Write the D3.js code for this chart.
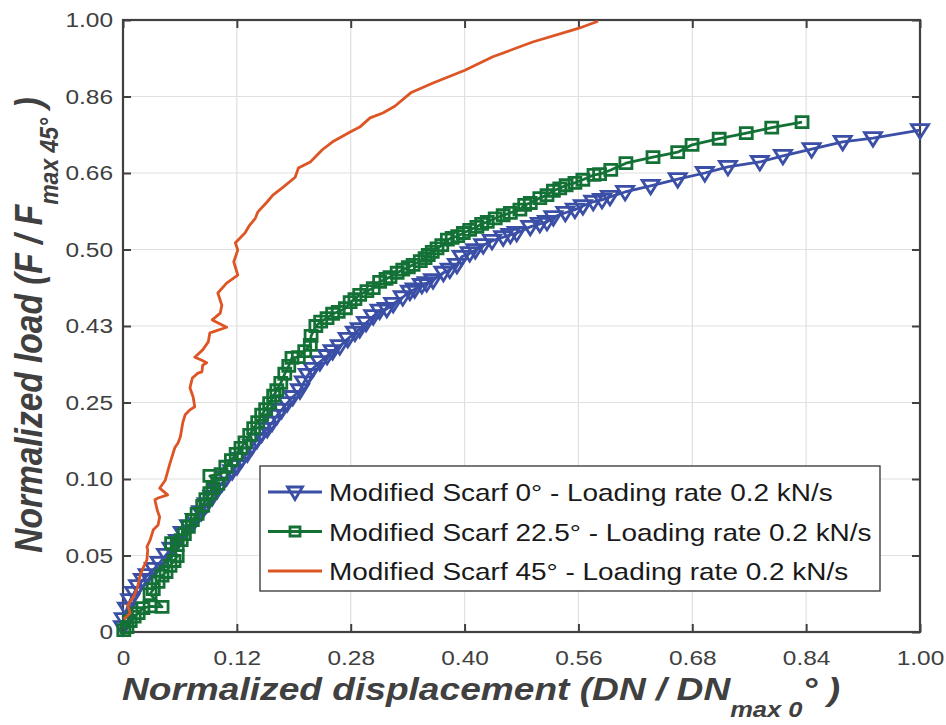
<!DOCTYPE html>
<html><head><meta charset="utf-8">
<script src="https://cdn.jsdelivr.net/npm/d3@7"></script>
<style>
body{margin:0;background:#fff;}
text{font-family:"Liberation Sans",Arial,Helvetica,sans-serif;}
</style></head>
<body>
<svg id="chart" width="946" height="725"></svg>
<script>
// ---- data (normalized linear axis units 0..1) ----
const xTickLabels = ["0","0.12","0.28","0.40","0.56","0.68","0.84","1.00"];
const yTickLabels = ["0","0.05","0.10","0.25","0.43","0.50","0.66","0.86","1.00"];
const seriesNames = [
  "Modified Scarf 0\u00B0 - Loading rate 0.2 kN/s",
  "Modified Scarf 22.5\u00B0 - Loading rate 0.2 kN/s",
  "Modified Scarf 45\u00B0 - Loading rate 0.2 kN/s"
];
const scarf0 = [
[0.000,0.008],[0.001,0.021],[0.005,0.038],[0.009,0.052],[0.014,0.064],[0.019,0.075],[0.025,0.085],[0.031,0.093],
[0.039,0.103],[0.046,0.113],[0.054,0.126],[0.061,0.136],[0.069,0.149],[0.075,0.162],[0.083,0.173],[0.090,0.183],
[0.098,0.196],[0.105,0.209],[0.112,0.221],[0.118,0.232],[0.124,0.243],[0.130,0.253],[0.137,0.263],[0.143,0.271],
[0.149,0.283],[0.156,0.292],[0.162,0.304],[0.168,0.314],[0.174,0.324],[0.181,0.332],[0.187,0.342],[0.193,0.353],
[0.199,0.363],[0.206,0.374],[0.213,0.384],[0.222,0.395],[0.227,0.408],[0.232,0.420],[0.238,0.430],[0.247,0.441],
[0.256,0.451],[0.263,0.459],[0.272,0.467],[0.282,0.479],[0.291,0.489],[0.297,0.495],[0.305,0.505],[0.314,0.516],
[0.322,0.525],[0.331,0.528],[0.339,0.536],[0.351,0.547],[0.360,0.556],[0.366,0.560],[0.375,0.567],[0.381,0.570],
[0.389,0.575],[0.402,0.587],[0.410,0.592],[0.419,0.600],[0.425,0.613],[0.435,0.619],[0.442,0.624],[0.452,0.632],
[0.463,0.639],[0.477,0.645],[0.486,0.649],[0.494,0.652],[0.511,0.662],[0.523,0.667],[0.532,0.670],[0.540,0.678],
[0.555,0.685],[0.567,0.690],[0.577,0.696],[0.590,0.703],[0.601,0.706],[0.611,0.711],[0.630,0.719],[0.662,0.729],
[0.696,0.740],[0.730,0.750],[0.759,0.760],[0.799,0.768],[0.828,0.778],[0.864,0.789],[0.903,0.801],[0.941,0.807],
[1.000,0.820]
];
const scarf22 = [
[0.001,0.003],[0.005,0.008],[0.009,0.018],[0.014,0.025],[0.019,0.031],[0.025,0.039],[0.034,0.042],[0.049,0.041],
[0.034,0.062],[0.038,0.070],[0.044,0.082],[0.049,0.092],[0.054,0.098],[0.059,0.108],[0.064,0.116],[0.068,0.124],
[0.061,0.145],[0.068,0.142],[0.073,0.150],[0.077,0.160],[0.082,0.172],[0.087,0.183],[0.093,0.193],[0.100,0.206],
[0.104,0.217],[0.109,0.227],[0.113,0.235],[0.119,0.242],[0.109,0.255],[0.123,0.258],[0.129,0.270],[0.136,0.281],
[0.142,0.291],[0.148,0.301],[0.153,0.310],[0.159,0.322],[0.164,0.333],[0.169,0.343],[0.174,0.355],[0.179,0.364],
[0.184,0.374],[0.189,0.386],[0.193,0.395],[0.198,0.407],[0.203,0.422],[0.208,0.435],[0.212,0.448],[0.220,0.449],
[0.228,0.459],[0.235,0.469],[0.236,0.484],[0.242,0.500],[0.248,0.507],[0.256,0.513],[0.263,0.520],[0.270,0.523],
[0.279,0.529],[0.285,0.539],[0.291,0.544],[0.297,0.551],[0.306,0.557],[0.314,0.562],[0.322,0.572],[0.330,0.577],
[0.335,0.580],[0.344,0.587],[0.351,0.592],[0.358,0.596],[0.364,0.600],[0.373,0.606],[0.379,0.611],[0.383,0.616],
[0.388,0.621],[0.394,0.627],[0.400,0.632],[0.407,0.641],[0.413,0.644],[0.420,0.647],[0.427,0.652],[0.435,0.657],
[0.444,0.662],[0.450,0.667],[0.457,0.670],[0.467,0.676],[0.477,0.681],[0.486,0.685],[0.498,0.690],[0.504,0.698],
[0.511,0.701],[0.523,0.709],[0.532,0.714],[0.540,0.721],[0.548,0.725],[0.556,0.730],[0.567,0.734],[0.577,0.739],
[0.591,0.747],[0.598,0.748],[0.612,0.755],[0.631,0.766],[0.665,0.776],[0.696,0.784],[0.714,0.796],[0.748,0.806],
[0.782,0.815],[0.814,0.824],[0.852,0.833]
];
const scarf45 = [
[0.001,0.021],[0.009,0.031],[0.006,0.044],[0.013,0.057],[0.018,0.072],[0.021,0.090],[0.024,0.101],[0.030,0.118],
[0.031,0.134],[0.030,0.139],[0.034,0.150],[0.038,0.167],[0.044,0.175],[0.046,0.188],[0.043,0.199],[0.040,0.216],
[0.044,0.219],[0.056,0.224],[0.046,0.235],[0.053,0.248],[0.059,0.276],[0.065,0.301],[0.069,0.309],[0.072,0.319],
[0.075,0.342],[0.078,0.355],[0.084,0.363],[0.090,0.368],[0.088,0.384],[0.084,0.399],[0.087,0.415],[0.094,0.423],
[0.099,0.425],[0.100,0.436],[0.105,0.440],[0.099,0.444],[0.090,0.449],[0.100,0.461],[0.107,0.474],[0.109,0.489],
[0.112,0.490],[0.130,0.498],[0.112,0.510],[0.122,0.521],[0.124,0.534],[0.119,0.554],[0.130,0.570],[0.144,0.583],
[0.139,0.605],[0.144,0.624],[0.141,0.636],[0.153,0.652],[0.159,0.665],[0.166,0.676],[0.169,0.686],[0.181,0.703],
[0.188,0.714],[0.201,0.727],[0.216,0.743],[0.220,0.758],[0.235,0.768],[0.250,0.788],[0.263,0.801],[0.285,0.817],
[0.297,0.825],[0.310,0.840],[0.326,0.848],[0.341,0.859],[0.361,0.881],[0.389,0.897],[0.429,0.918],[0.464,0.940],
[0.514,0.964],[0.565,0.984],[0.573,0.987],[0.596,0.998]
];
const colors = ["#3a4fa5","#137136","#dd5524"];

// ---- layout ----
const W=946,H=725;
const L=123,R=920,T=20,B=632;
const SX=1.165; // horizontal text stretch seen in the reference
const svg=d3.select("#chart");
svg.append("rect").attr("width",W).attr("height",H).attr("fill","#fff");
const x=d3.scaleLinear().domain([0,1]).range([L,R]);
const y=d3.scaleLinear().domain([0,1]).range([B,T]);
const xt=d3.range(xTickLabels.length).map(i=>i/(xTickLabels.length-1));
const yt=d3.range(yTickLabels.length).map(i=>i/(yTickLabels.length-1));
const axisCol="#404040";

// grid
const g=svg.append("g");
g.selectAll(".gx").data(xt.slice(1,-1)).join("line")
 .attr("x1",d=>x(d)).attr("x2",d=>x(d)).attr("y1",T).attr("y2",B)
 .attr("stroke","#e0e0e0").attr("stroke-width",1.2);
g.selectAll(".gy").data(yt.slice(1,-1)).join("line")
 .attr("y1",d=>y(d)).attr("y2",d=>y(d)).attr("x1",L).attr("x2",R)
 .attr("stroke","#e0e0e0").attr("stroke-width",1.2);

// axes
function styleAxis(sel){
  sel.select(".domain").remove();
  sel.selectAll(".tick line").attr("stroke",axisCol).attr("stroke-width",2);
  sel.selectAll(".tick text").attr("fill",axisCol).style("font-size","21px")
     .style("font-family","'Liberation Sans',Arial,sans-serif");
}
const fx=(d)=>xTickLabels[xt.indexOf(d)];
const fy=(d)=>yTickLabels[yt.indexOf(d)];
svg.append("g").attr("transform",`translate(0,${B})`)
 .call(d3.axisBottom(x).tickValues(xt).tickFormat(fx).tickSizeInner(-8).tickSizeOuter(0).tickPadding(18))
 .call(styleAxis)
 .call(s=>s.selectAll(".tick text").attr("transform",`scale(${SX},1)`));
svg.append("g").attr("transform",`translate(0,${T})`)
 .call(d3.axisTop(x).tickValues(xt).tickFormat("").tickSizeInner(-8).tickSizeOuter(0))
 .call(styleAxis);
svg.append("g").attr("transform",`translate(${L},0)`)
 .call(d3.axisLeft(y).tickValues(yt).tickFormat(fy).tickSizeInner(-8).tickSizeOuter(0).tickPadding(10))
 .call(styleAxis)
 .call(s=>s.selectAll(".tick text").attr("x",-10/SX).attr("transform",`scale(${SX},1)`));
svg.append("g").attr("transform",`translate(${R},0)`)
 .call(d3.axisRight(y).tickValues(yt).tickFormat("").tickSizeInner(-8).tickSizeOuter(0))
 .call(styleAxis);
svg.append("rect").attr("x",L).attr("y",T).attr("width",R-L).attr("height",B-T)
 .attr("fill","none").attr("stroke",axisCol).attr("stroke-width",2.2);

// series
const line=d3.line().x(d=>x(d[0])).y(d=>y(d[1]));
const triPath="M-8.5,-5.5L8.5,-5.5L0,8Z";
const sqPath="M-6,-5.5L6,-5.5L6,5.5L-6,5.5Z";
const plot=svg.append("g");
function drawSeries(data,col,marker){
  plot.append("path").datum(data).attr("d",line).attr("fill","none")
   .attr("stroke",col).attr("stroke-width",2.8).attr("stroke-linejoin","round");
  if(marker){
    plot.append("g").selectAll("path").data(data).join("path")
     .attr("d",marker).attr("transform",d=>`translate(${x(d[0])},${y(d[1])})`)
     .attr("fill","none").attr("stroke",col).attr("stroke-width",2.8);
  }
}
drawSeries(scarf0,colors[0],triPath);
drawSeries(scarf22,colors[1],sqPath);
drawSeries(scarf45,colors[2],null);

// legend
const lg=svg.append("g").attr("transform","translate(260,466)");
lg.append("rect").attr("width",620).attr("height",125).attr("fill","#fff")
 .attr("stroke","#404040").attr("stroke-width",1.4);
const markers=["M-7.5,-5L7.5,-5L0,7.5Z","M-5,-4.5L5,-4.5L5,4.5L-5,4.5Z",null];
seriesNames.forEach((n,i)=>{
  const yy=26+i*39.5;
  lg.append("line").attr("x1",8).attr("x2",62).attr("y1",yy).attr("y2",yy)
    .attr("stroke",colors[i]).attr("stroke-width",3);
  if(markers[i]) lg.append("path").attr("d",markers[i]).attr("transform",`translate(35,${yy})`)
    .attr("fill","none").attr("stroke",colors[i]).attr("stroke-width",2.8);
  lg.append("text").attr("transform",`translate(69,${yy+9}) scale(${SX},1)`).text(n)
    .attr("fill","#1a1a1a").style("font-size","24px");
});

// axis titles
const xtitle=svg.append("text").attr("transform",`translate(481,700) scale(1.16,1)`).attr("text-anchor","middle")
 .attr("fill",axisCol).style("font-size","32px").style("font-weight","bold").style("font-style","italic");
xtitle.append("tspan").text("Normalized displacement (DN / DN");
xtitle.append("tspan").attr("dy",17).style("font-size","22px").text("max 0");
xtitle.append("tspan").attr("dy",-17).text("\u00B0 )");

const ytitle=svg.append("text").attr("transform",`translate(42,325) scale(1.16,1) rotate(-90)`).attr("text-anchor","middle")
 .attr("fill",axisCol).style("font-size","33.5px").style("font-weight","bold").style("font-style","italic");
ytitle.append("tspan").text("Normalized load (F / F");
ytitle.append("tspan").attr("dy",14).style("font-size","23px").text("max 45\u00B0");
ytitle.append("tspan").attr("dy",-14).text(" )");
</script>
</body></html>
